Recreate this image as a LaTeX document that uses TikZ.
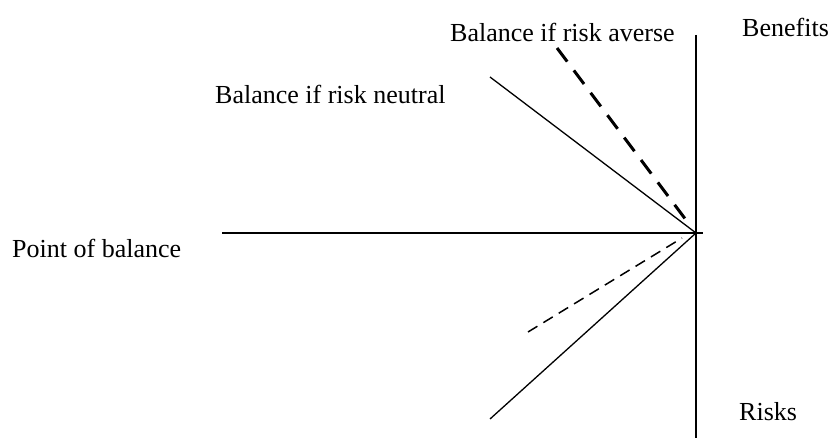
\documentclass[tikz,border=0pt]{standalone}
\usepackage{fontspec}
\setmainfont{Liberation Serif}
\begin{document}
\begin{tikzpicture}[x=1pt,y=-1pt,
  lbl/.style={anchor=base west,inner sep=0pt,font=\fontsize{26}{30}\selectfont},
  thin/.style={line width=1.3pt},
  bigdash/.style={line width=3pt,dash pattern=on 17pt off 11pt},
  smalldash/.style={line width=1.5pt,dash pattern=on 11pt off 7pt}]
\useasboundingbox (0,0) rectangle (830,438);
\coordinate (O) at (696,233);
\coordinate (vtop) at (696,35);
\coordinate (vbot) at (696,438);
\coordinate (hl) at (222,233);
\coordinate (hr) at (703,233);
\coordinate (neu) at (490,77);
\coordinate (avs) at (557,48);
\coordinate (avsend) at (686,220);
\coordinate (sd1) at (528,332);
\coordinate (sd2) at (682,238);
\coordinate (low) at (490,419);

\node[lbl] (averse) at (450,42) {Balance if risk averse};
\node[lbl] (benefits) at (742,37) {Benefits};
\node[lbl] (neutral) at (215,104) {Balance if risk neutral};
\node[lbl] (point) at (12,258) {Point of balance};
\node[lbl] (risks) at (739,420) {Risks};

\draw[thin] (vtop) -- (vbot);
\draw[thin] (hl) -- (hr);
\draw[thin] (neu) -- (O);
\draw[thin] (low) -- (O);
\draw[bigdash] (avs) -- (avsend);
\draw[smalldash] (sd1) -- (sd2);
\end{tikzpicture}
\end{document}
